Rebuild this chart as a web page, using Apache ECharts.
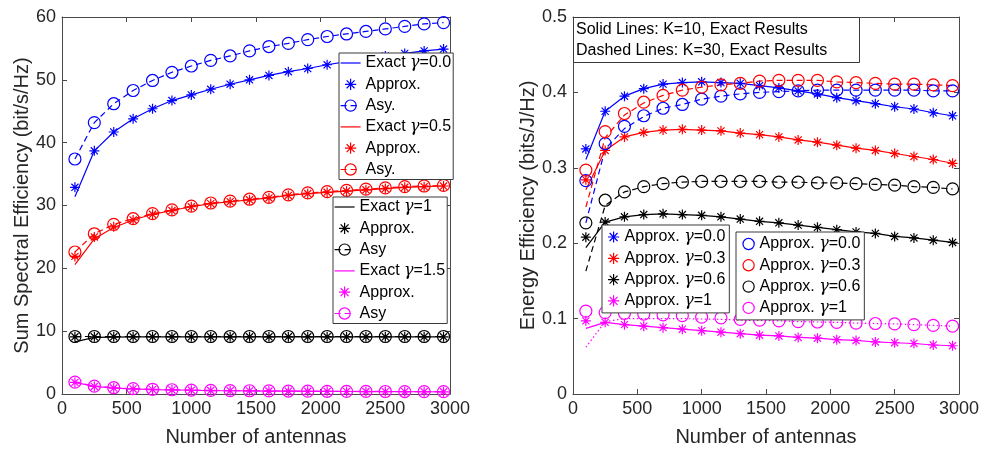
<!DOCTYPE html>
<html><head><meta charset="utf-8">
<script src="https://cdn.jsdelivr.net/npm/echarts@6/dist/echarts.min.js"></script>
<style>html,body{margin:0;padding:0;background:#fff}#c{width:982px;height:452px}</style>
</head><body><div id="c"></div>
<script>
// ---------- data ----------
const antennas = [100,250,400,550,700,850,1000,1150,1300,1450,1600,1750,1900,2050,2200,2350,2500,2650,2800,2950];
const xTicks = [0,500,1000,1500,2000,2500,3000];
const seTicks = [0,10,20,30,40,50,60];
const eeTicks = [0,0.1,0.2,0.3,0.4,0.5];

// Left: Sum spectral efficiency
const seExactG00  = [31.4,38.7,41.7,43.8,45.4,46.7,47.6,48.5,49.3,50.0,50.7,51.3,51.8,52.4,52.9,53.4,53.8,54.2,54.6,54.9];
const seApproxG00 = [32.9,38.7,41.7,43.8,45.4,46.7,47.6,48.5,49.3,50.0,50.7,51.3,51.8,52.4,52.9,53.4,53.8,54.2,54.6,54.9];
const seAsyG00    = [37.4,43.2,46.2,48.3,49.9,51.2,52.2,53.1,53.8,54.6,55.3,55.8,56.4,56.9,57.3,57.7,58.1,58.5,58.9,59.1];
const seExactG05  = [20.6,24.7,26.5,27.7,28.6,29.2,29.8,30.3,30.6,30.9,31.2,31.6,31.9,32.1,32.3,32.5,32.7,32.9,33.0,33.1];
const seApproxG05 = [21.9,25.0,26.6,27.7,28.6,29.2,29.8,30.3,30.6,30.9,31.2,31.6,31.9,32.1,32.3,32.5,32.7,32.9,33.0,33.1];
const seAsyG05    = [22.6,25.5,27.0,27.9,28.7,29.3,29.9,30.4,30.7,31.0,31.3,31.7,32.0,32.2,32.4,32.6,32.8,33.0,33.1,33.2];
const seExactG1   = [8.3,9.0,9.05,9.1,9.1,9.1,9.1,9.1,9.1,9.1,9.1,9.1,9.1,9.1,9.1,9.1,9.1,9.1,9.1,9.1];
const seApproxG1  = [9.1,9.1,9.1,9.1,9.1,9.1,9.1,9.1,9.1,9.1,9.1,9.1,9.1,9.1,9.1,9.1,9.1,9.1,9.1,9.1];
const seAsyG1     = [9.15,9.15,9.15,9.15,9.15,9.15,9.15,9.15,9.15,9.15,9.15,9.15,9.15,9.15,9.15,9.15,9.15,9.15,9.15,9.15];
const seExactG15  = [1.85,1.2,0.95,0.8,0.7,0.65,0.6,0.55,0.52,0.5,0.47,0.45,0.43,0.42,0.4,0.39,0.38,0.37,0.36,0.35];
const seApproxG15 = [1.85,1.2,0.95,0.8,0.7,0.65,0.6,0.55,0.52,0.5,0.47,0.45,0.43,0.42,0.4,0.39,0.38,0.37,0.36,0.35];
const seAsyG15    = [1.9,1.25,1.0,0.85,0.75,0.68,0.62,0.57,0.54,0.52,0.49,0.47,0.45,0.43,0.42,0.41,0.4,0.39,0.38,0.37];

// Right: Energy efficiency
const eeExactK10G00  = [0.311,0.375,0.395,0.405,0.411,0.413,0.414,0.413,0.412,0.409,0.406,0.402,0.398,0.393,0.389,0.385,0.381,0.378,0.373,0.369];
const eeApproxK10G00 = [0.325,0.375,0.395,0.405,0.411,0.413,0.414,0.413,0.412,0.409,0.406,0.402,0.398,0.393,0.389,0.385,0.381,0.378,0.373,0.369];
const eeExactK30G00  = [0.227,0.325,0.352,0.368,0.379,0.384,0.391,0.395,0.398,0.400,0.401,0.402,0.403,0.403,0.403,0.403,0.403,0.403,0.402,0.402];
const eeApproxK30G00 = [0.283,0.332,0.355,0.369,0.379,0.384,0.391,0.395,0.398,0.400,0.401,0.402,0.403,0.403,0.403,0.403,0.403,0.403,0.402,0.402];
const eeExactK10G03  = [0.271,0.323,0.341,0.347,0.350,0.351,0.350,0.349,0.346,0.344,0.341,0.337,0.334,0.330,0.326,0.323,0.319,0.315,0.311,0.306];
const eeApproxK10G03 = [0.284,0.323,0.341,0.347,0.350,0.351,0.350,0.349,0.346,0.344,0.341,0.337,0.334,0.330,0.326,0.323,0.319,0.315,0.311,0.306];
const eeExactK30G03  = [0.248,0.340,0.370,0.386,0.396,0.403,0.407,0.410,0.412,0.415,0.416,0.416,0.416,0.414,0.413,0.412,0.411,0.411,0.410,0.409];
const eeApproxK30G03 = [0.297,0.348,0.372,0.387,0.396,0.403,0.407,0.410,0.412,0.415,0.416,0.416,0.416,0.414,0.413,0.412,0.411,0.411,0.410,0.409];
const eeExactK10G06  = [0.194,0.228,0.235,0.238,0.239,0.238,0.237,0.235,0.232,0.229,0.227,0.224,0.221,0.218,0.215,0.213,0.209,0.207,0.204,0.201];
const eeApproxK10G06 = [0.208,0.228,0.235,0.238,0.239,0.238,0.237,0.235,0.232,0.229,0.227,0.224,0.221,0.218,0.215,0.213,0.209,0.207,0.204,0.201];
const eeExactK30G06  = [0.163,0.250,0.268,0.275,0.279,0.281,0.282,0.282,0.282,0.282,0.281,0.281,0.280,0.280,0.279,0.278,0.277,0.275,0.274,0.272];
const eeApproxK30G06 = [0.227,0.257,0.268,0.275,0.279,0.281,0.282,0.282,0.282,0.282,0.281,0.281,0.280,0.280,0.279,0.278,0.277,0.275,0.274,0.272];
const eeExactK10G1   = [0.087,0.095,0.092,0.090,0.088,0.086,0.084,0.082,0.080,0.078,0.077,0.075,0.074,0.072,0.071,0.069,0.068,0.067,0.065,0.064];
const eeApproxK10G1  = [0.097,0.095,0.092,0.090,0.088,0.086,0.084,0.082,0.080,0.078,0.077,0.075,0.074,0.072,0.071,0.069,0.068,0.067,0.065,0.064];
const eeExactK30G1   = [0.062,0.096,0.100,0.100,0.100,0.100,0.0995,0.099,0.098,0.0975,0.097,0.096,0.0955,0.095,0.094,0.0935,0.093,0.092,0.091,0.090];
const eeApproxK30G1  = [0.110,0.108,0.107,0.106,0.105,0.104,0.102,0.101,0.099,0.098,0.097,0.096,0.0955,0.095,0.094,0.0935,0.093,0.092,0.091,0.090];

const boxText = 'Solid Lines: K=10, Exact Results\nDashed Lines: K=30, Exact Results';

// ---------- helpers ----------
const STAR = 'path://M10,0L10,20M0,10L20,10M2.9,2.9L17.1,17.1M2.9,17.1L17.1,2.9';
const AX = '#4a4a4a';
const FONT = 'Liberation Sans';
const pts = ys => antennas.map((x, i) => [x, ys[i]]);

function exact(name, ys, color, grid, type) {
  return { name, type: 'line', xAxisIndex: grid*2, yAxisIndex: grid*2, data: pts(ys),
    symbol: 'none', lineStyle: { color, width: 1.2, type: type || 'solid' },
    itemStyle: { color }, emphasis: { disabled: true }, z: 3 };
}
function marks(name, ys, color, grid, sym, lineType) {
  return { name, type: 'line', xAxisIndex: grid*2, yAxisIndex: grid*2, data: pts(ys),
    symbol: sym === 'star' ? STAR : 'circle', symbolKeepAspect: true,
    symbolSize: sym === 'star' ? 10 : 12, showSymbol: true, showAllSymbol: true,
    itemStyle: { color: 'rgba(0,0,0,0)', borderColor: color, borderWidth: 1.2 },
    lineStyle: lineType ? { color, width: 1.2, type: lineType } : { color, opacity: 0, width: 1.2 },
    emphasis: { disabled: true }, z: 4 };
}

const series = [
  exact('Exact γ=0.0', seExactG00, '#0000ff', 0),
  marks('Approx. a', seApproxG00, '#0000ff', 0, 'star'),
  marks('Asy. a', seAsyG00, '#0000ff', 0, 'circle', [6,4]),
  exact('Exact γ=0.5', seExactG05, '#ff0000', 0),
  marks('Approx. b', seApproxG05, '#ff0000', 0, 'star'),
  marks('Asy. b', seAsyG05, '#ff0000', 0, 'circle', [6,4]),
  exact('Exact γ=1', seExactG1, '#000000', 0),
  marks('Approx. c', seApproxG1, '#000000', 0, 'star'),
  marks('Asy c', seAsyG1, '#000000', 0, 'circle', [6,4]),
  exact('Exact γ=1.5', seExactG15, '#ff00ff', 0),
  marks('Approx. d', seApproxG15, '#ff00ff', 0, 'star'),
  marks('Asy d', seAsyG15, '#ff00ff', 0, 'circle', [6,4]),

  exact('K10 exact 0.0', eeExactK10G00, '#0000ff', 1),
  exact('K30 exact 0.0', eeExactK30G00, '#0000ff', 1, [6,4]),
  exact('K10 exact 0.3', eeExactK10G03, '#ff0000', 1),
  exact('K30 exact 0.3', eeExactK30G03, '#ff0000', 1, [6,4]),
  exact('K10 exact 0.6', eeExactK10G06, '#000000', 1),
  exact('K30 exact 0.6', eeExactK30G06, '#000000', 1, [6,4]),
  exact('K10 exact 1', eeExactK10G1, '#ff00ff', 1),
  exact('K30 exact 1', eeExactK30G1, '#ff00ff', 1, [1.5,2.5]),
  marks('Approx. γ=0.0 *', eeApproxK10G00, '#0000ff', 1, 'star'),
  marks('Approx. γ=0.3 *', eeApproxK10G03, '#ff0000', 1, 'star'),
  marks('Approx. γ=0.6 *', eeApproxK10G06, '#000000', 1, 'star'),
  marks('Approx. γ=1 *', eeApproxK10G1, '#ff00ff', 1, 'star'),
  marks('Approx. γ=0.0 o', eeApproxK30G00, '#0000ff', 1, 'circle'),
  marks('Approx. γ=0.3 o', eeApproxK30G03, '#ff0000', 1, 'circle'),
  marks('Approx. γ=0.6 o', eeApproxK30G06, '#000000', 1, 'circle'),
  marks('Approx. γ=1 o', eeApproxK30G1, '#ff00ff', 1, 'circle')
];

// legend label: strip the internal suffix, italicise gamma
function legendLabel(name) {
  let t = name.replace(/ [a-d*o]$/, '');
  return t.replace('γ', '{g|γ}');
}
const richG = { g: { fontFamily: 'DejaVu Serif', fontStyle: 'italic', fontSize: 16, color: '#000' } };

function legendBase(names, left, top, itemWidth, hideLine) {
  return {
    left, top, orient: 'vertical', selectedMode: false,
    itemWidth, itemHeight: 14, itemGap: 5.3,
    padding: [2, 2, 2, 1],
    backgroundColor: '#fff', borderColor: '#3a3a3a', borderWidth: 1, borderRadius: 0,
    itemStyle: { borderWidth: 1.2 }, lineStyle: { width: 1.2 },
    textStyle: { fontFamily: FONT, fontSize: 16, color: '#000', lineHeight: 16, rich: richG },
    formatter: legendLabel,
    data: names.map(n => {
      const d = { name: n };
      if (/^Approx/.test(n) || hideLine) d.lineStyle = { opacity: 0 };
      if (/^Exact/.test(n)) d.itemStyle = { opacity: 0, borderWidth: 0 };
      return d;
    }),
    z: 10
  };
}

function xAxes(gi) {
  const base = { type: 'value', gridIndex: gi, min: 0, max: 3000, interval: xTicks[1] - xTicks[0] };
  return [
    Object.assign({}, base, {
      position: 'bottom',
      name: 'Number of antennas', nameLocation: 'middle', nameGap: 33,
      nameTextStyle: { fontFamily: FONT, fontSize: 20, color: '#262626' },
      axisLine: { show: true, lineStyle: { color: AX, width: 1 } },
      axisTick: { inside: true, length: 5, lineStyle: { color: AX } },
      axisLabel: { fontFamily: FONT, fontSize: 18, color: '#262626', margin: 6, formatter: v => String(v) },
      splitLine: { show: false }
    }),
    Object.assign({}, base, {
      position: 'top',
      axisLine: { show: true, onZero: false, lineStyle: { color: AX, width: 1 } },
      axisTick: { inside: true, length: 5, lineStyle: { color: AX } },
      axisLabel: { show: false }, splitLine: { show: false }
    })
  ];
}
function yAxes(gi, max, interval, name, gap, fmt) {
  const base = { type: 'value', gridIndex: gi, min: 0, max, interval };
  return [
    Object.assign({}, base, {
      position: 'left',
      name, nameLocation: 'middle', nameGap: gap,
      nameTextStyle: { fontFamily: FONT, fontSize: 20, color: '#262626' },
      axisLine: { show: true, onZero: false, lineStyle: { color: AX, width: 1 } },
      axisTick: { show: true, inside: true, length: 5, lineStyle: { color: AX } },
      axisLabel: { fontFamily: FONT, fontSize: 18, color: '#262626', margin: 6, formatter: fmt },
      splitLine: { show: false }
    }),
    Object.assign({}, base, {
      position: 'right',
      axisLine: { show: true, onZero: false, lineStyle: { color: AX, width: 1 } },
      axisTick: { show: true, inside: true, length: 5, lineStyle: { color: AX } },
      axisLabel: { show: false }, splitLine: { show: false }
    })
  ];
}

const option = {
  animation: false,
  backgroundColor: '#fff',
  textStyle: { fontFamily: FONT },
  title: {
    text: boxText, left: 573, top: 17,
    padding: [2, 32, 2, 3],
    backgroundColor: '#fff', borderColor: '#3a3a3a', borderWidth: 1,
    textStyle: { fontFamily: FONT, fontSize: 16, fontWeight: 'normal', color: '#000', lineHeight: 21 },
    z: 10
  },
  grid: [
    { left: 62, top: 17, width: 388, height: 379, containLabel: false },
    { left: 573, top: 17, width: 388, height: 378, containLabel: false }
  ],
  xAxis: [...xAxes(0), ...xAxes(1)],
  yAxis: [
    ...yAxes(0, seTicks[seTicks.length-1], seTicks[1]-seTicks[0], 'Sum Spectral Efficiency (bit/s/Hz)', 30, v => String(v)),
    ...yAxes(1, eeTicks[eeTicks.length-1], 0.1, 'Energy Efficiency (bits/J/Hz)', 33, v => v === 0 ? '0' : v.toFixed(1))
  ],
  legend: [
    legendBase(['Exact γ=0.0','Approx. a','Asy. a','Exact γ=0.5','Approx. b','Asy. b'], 339, 53, 20, false),
    legendBase(['Exact γ=1','Approx. c','Asy c','Exact γ=1.5','Approx. d','Asy d'], 333, 197, 20, false),
    Object.assign(legendBase(['Approx. γ=0.0 *','Approx. γ=0.3 *','Approx. γ=0.6 *','Approx. γ=1 *'], 602, 225, 12, true), { padding: [4, 4, 4, 5] }),
    Object.assign(legendBase(['Approx. γ=0.0 o','Approx. γ=0.3 o','Approx. γ=0.6 o','Approx. γ=1 o'], 736, 232, 12, true), { padding: [4, 4, 4, 6] })
  ],
  series
};

const chart = echarts.init(document.getElementById('c'), null, { renderer: 'canvas' });
chart.setOption(option);
</script>
</body></html>
